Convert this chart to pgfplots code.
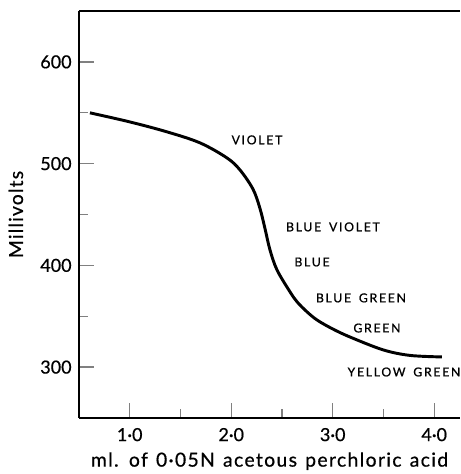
\documentclass[border=0pt]{standalone}
\usepackage{fontspec}
\setmainfont{Lato}[FakeBold=0.6]
\newfontfamily\labfont{Lato}[LetterSpace=14,FakeBold=0.8,WordSpace=1.6]
\newfontfamily\xlabfont{Lato}[LetterSpace=7,FakeBold=0.6,WordSpace=1.3]
\newfontfamily\ylabfont{Lato}[LetterSpace=6,FakeBold=0.6]
\usepackage{pgfplots}
\pgfplotsset{compat=1.18}
\begin{document}
\begin{tikzpicture}
\begin{axis}[
  scale only axis,
  width=285.75pt, height=305.25pt,
  xmin=0.5, xmax=4.254, ymin=250, ymax=650,
  axis x line=bottom, axis y line=left,
  axis line style={-, line width=1.1pt},
  xtick={1,2,3,4}, xticklabels={1·0,2·0,3·0,4·0},
  minor xtick={1.5,2.5,3.5},
  ytick={300,400,500,600}, yticklabels={300,400,500,600},
  minor ytick={350,450,550},
  tick align=inside,
  major tick length=11.5pt, minor tick length=7pt,
  x tick style={line width=0.8pt},
  y tick style={line width=1pt},
  ticklabel style={font=\fontsize{13.5}{16}\selectfont},
  xticklabel style={yshift=-4pt},
  yticklabel style={xshift=-2pt},
  xlabel={ml. of 0·05N acetous perchloric acid},
  ylabel={Millivolts},
  xlabel style={font=\xlabfont\fontsize{14.5}{16}\selectfont, yshift=-1.5pt},
  ylabel style={font=\ylabfont\fontsize{14.5}{16}\selectfont, yshift=6pt},
  clip=false,
]
\addplot[line width=2.2pt, smooth, tension=0.55] coordinates {
 (0.608,549.9) (1.0,541) (1.367,531.2) (1.692,520.4) (1.958,505.6)
 (2.086,493.8) (2.214,475) (2.283,456) (2.333,436) (2.382,415.1)
 (2.451,395.5) (2.579,374) (2.65,364) (2.75,354) (2.85,346)
 (3.0,337.5) (3.17,329.6) (3.495,317) (3.761,311.5) (4.076,310)
};
\draw[line width=1.1pt] (rel axis cs:0,1) -- (rel axis cs:1,1);
\tikzset{lab/.style={font=\labfont\fontsize{9.2}{10}\selectfont}}
\node[lab] at (axis cs:2.254,523.3) {VIOLET};
\node[lab] at (axis cs:3.002,437.8) {BLUE VIOLET};
\node[lab] at (axis cs:2.796,403.3) {BLUE};
\node[lab] at (axis cs:3.278,368) {BLUE GREEN};
\node[lab] at (axis cs:3.436,338.4) {GREEN};
\node[lab] at (axis cs:3.702,295.2) {YELLOW GREEN};
\coordinate (bl) at (rel axis cs:-0.2073,-0.1376);
\coordinate (tr) at (rel axis cs:1,1.027);
\end{axis}
\pgfresetboundingbox
\path (bl) rectangle (tr);
\end{tikzpicture}
\end{document}
